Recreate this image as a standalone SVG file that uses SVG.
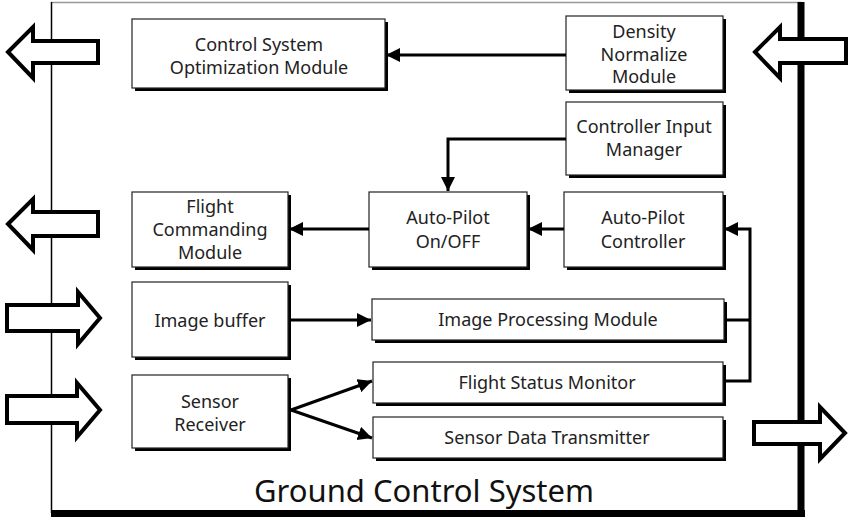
<svg xmlns="http://www.w3.org/2000/svg" width="850" height="518" viewBox="0 0 850 518">
<defs>
<style>
.sh{fill:#000}
.box{fill:#fff;stroke:#222;stroke-width:1.2}
.t{font-family:"Noto Sans","Open Sans",sans-serif;font-size:18px;fill:#222;text-anchor:middle}
.big{fill:#fff;stroke:#000;stroke-width:4;stroke-linejoin:miter}
.c{fill:none;stroke:#000;stroke-width:3}
</style>
<marker id="ah" markerUnits="userSpaceOnUse" markerWidth="16" markerHeight="16" refX="14" refY="7" orient="auto">
<path d="M0,0 L14,7 L0,14 Z" fill="#000"/>
</marker>
</defs>
<rect width="850" height="518" fill="#fff"/>
<g id="frame">
<line x1="51" y1="2.5" x2="801" y2="2.5" stroke="#999" stroke-width="1.5"/>
<line x1="51.5" y1="2" x2="51.5" y2="513" stroke="#000" stroke-width="1.5"/>
<line x1="801" y1="2" x2="801" y2="517" stroke="#000" stroke-width="7"/>
<line x1="51" y1="513.5" x2="805" y2="513.5" stroke="#000" stroke-width="7"/>
<text x="424" y="502" style="font-family:'Noto Sans','Open Sans',sans-serif;font-size:31px;fill:#111;text-anchor:middle">Ground Control System</text>
</g>
<g id="io-arrows">
<polygon class="big" points="8,52 33,27 33,41 98,41 98,63 33,63 33,78"/>
<polygon class="big" points="8,224 33,199 33,212 98,212 98,236 33,236 33,250"/>
<polygon class="big" points="7,305 78,305 78,292 100,318 78,344 78,331 7,331"/>
<polygon class="big" points="7,396 77,396 77,383 100,410 77,437 77,423 7,423"/>
<polygon class="big" points="755,52 780,27 780,39 846,39 846,63 780,63 780,78"/>
<polygon class="big" points="754,422 820,422 820,407 845,433 820,459 820,444 754,444"/>
</g>
<g id="csom">
<rect class="sh" x="135" y="22" width="253" height="69"/>
<rect class="box" x="132" y="19" width="253" height="69"/>
<text class="t" x="259" y="51">Control System</text>
<text class="t" x="259" y="74">Optimization Module</text>
</g>
<g id="dnm">
<rect class="sh" x="569" y="19" width="157" height="74"/>
<rect class="box" x="566" y="16" width="157" height="74"/>
<text class="t" x="644" y="38">Density</text>
<text class="t" x="644" y="61">Normalize</text>
<text class="t" x="644" y="83">Module</text>
</g>
<g id="cim">
<rect class="sh" x="569" y="105" width="157" height="73"/>
<rect class="box" x="566" y="102" width="157" height="73"/>
<text class="t" x="644" y="133">Controller Input</text>
<text class="t" x="644" y="156">Manager</text>
</g>
<g id="apc">
<rect class="sh" x="567" y="195" width="159" height="75"/>
<rect class="box" x="564" y="192" width="159" height="75"/>
<text class="t" x="643" y="224">Auto-Pilot</text>
<text class="t" x="643" y="248">Controller</text>
</g>
<g id="apo">
<rect class="sh" x="372" y="195" width="158" height="75"/>
<rect class="box" x="369" y="192" width="158" height="75"/>
<text class="t" x="448" y="224">Auto-Pilot</text>
<text class="t" x="448" y="248">On/OFF</text>
</g>
<g id="fcm">
<rect class="sh" x="135" y="195" width="156" height="75"/>
<rect class="box" x="132" y="192" width="156" height="75"/>
<text class="t" x="210" y="213">Flight</text>
<text class="t" x="210" y="236">Commanding</text>
<text class="t" x="210" y="259">Module</text>
</g>
<g id="ib">
<rect class="sh" x="135" y="285" width="156" height="75"/>
<rect class="box" x="132" y="282" width="156" height="75"/>
<text class="t" x="210" y="327">Image buffer</text>
</g>
<g id="ipm">
<rect class="sh" x="375" y="302" width="352" height="41"/>
<rect class="box" x="372" y="299" width="352" height="41"/>
<text class="t" x="548" y="326">Image Processing Module</text>
</g>
<g id="sr">
<rect class="sh" x="135" y="378" width="156" height="73"/>
<rect class="box" x="132" y="375" width="156" height="73"/>
<text class="t" x="210" y="408">Sensor</text>
<text class="t" x="210" y="431">Receiver</text>
</g>
<g id="fsm">
<rect class="sh" x="376" y="365" width="350" height="41"/>
<rect class="box" x="373" y="362" width="350" height="41"/>
<text class="t" x="547" y="389">Flight Status Monitor</text>
</g>
<g id="sdt">
<rect class="sh" x="376" y="420" width="350" height="41"/>
<rect class="box" x="373" y="417" width="350" height="41"/>
<text class="t" x="547" y="444">Sensor Data Transmitter</text>
</g>
<g id="connectors">
<line class="c" x1="566" y1="55" x2="386" y2="55" marker-end="url(#ah)"/>
<polyline class="c" points="566,139 448,139 448,191" marker-end="url(#ah)"/>
<line class="c" x1="564" y1="229" x2="528" y2="229" marker-end="url(#ah)"/>
<line class="c" x1="369" y1="229" x2="289" y2="229" marker-end="url(#ah)"/>
<line class="c" x1="291" y1="320" x2="371" y2="320" marker-end="url(#ah)"/>
<polyline class="c" points="727,320 750,320"/>
<polyline class="c" points="726,381 750,381 750,229 724,229" marker-end="url(#ah)"/>
<line class="c" x1="291" y1="410" x2="372" y2="381" marker-end="url(#ah)"/>
<line class="c" x1="291" y1="410" x2="372" y2="438" marker-end="url(#ah)"/>
</g>
</svg>
